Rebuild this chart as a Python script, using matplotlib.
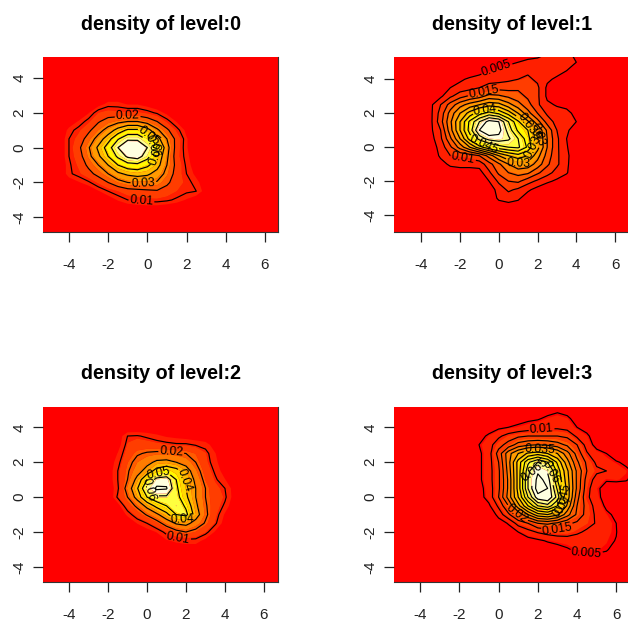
import numpy as np
import matplotlib
matplotlib.use("Agg")
import matplotlib.pyplot as plt
from matplotlib.colors import LinearSegmentedColormap

plt.rcParams['font.family'] = ['Liberation Sans', 'DejaVu Sans']
plt.rcParams['axes.unicode_minus'] = False

titles = ["density of level:0", "density of level:1", "density of level:2", "density of level:3"]
tick_values = [-4, -2, 0, 2, 4, 6]
ytick_values = [-4, -2, 0, 2, 4]

# densities in thousandths, rows from top (largest y) to bottom
level0_x = np.arange(-4.5, 3.51, 0.5)
level0_y = np.arange(3.0, -3.51, -0.5)
level0_z = [
 [0,0,0,0,1,2,2,2,2,1,0,0,0,0,0,0,0],
 [0,0,0,1,4,8,8,6,6,4,2,1,0,0,0,0,0],
 [0,0,1,6,13,15,14,14,14,12,9,5,3,0,0,0,0],
 [0,3,7,12,19,24,27,30,30,26,20,12,6,3,0,0,0],
 [1,8,12,18,26,34,44,52,52,44,32,22,12,5,1,0,0],
 [2,10,15,24,34,46,59,68,68,58,44,30,17,7,2,0,0],
 [2,10,18,29,42,55,70,81,80,70,55,34,16,7,2,0,0],
 [2,10,16,27,38,50,62,72,75,64,48,32,15,8,2,0,0],
 [1,9,14,22,30,40,50,56,57,52,44,30,17,9,3,0,0],
 [1,9,12,17,23,30,38,42,44,42,36,27,16,10,5,2,0],
 [0,3,6,9,14,20,26,30,31,31,29,22,15,12,8,3,0],
 [0,0,1,2,6,10,13,16,17,18,19,16,13,11,10,4,0],
 [0,0,0,0,1,3,7,10,11,12,12,11,9,6,3,1,0],
 [0,0,0,0,0,0,1,2,3,3,3,2,1,0,0,0,0],
]
level0_levels = [10,20,30,40,50,60,70]
level0_labels = [(-1.0,1.75),(-0.2,-2.06),(-0.3,-3.05),(0.1,0.7),(0.35,0.2),(0.45,-0.3)]

level1_x = np.arange(-4.0, 4.51, 0.5)
level1_y = np.arange(5.5, -4.01, -0.5)
level1_z = [
 [0,0,0,0,0,0,0,0,1,1,2,3,4,5,6,6,4,1],
 [0,0,0,0,0,0,1,2,3,4,5,6,6,7,7,7,5,1],
 [0,0,0,0,0,1,3,5,6,7,8,9,9,8,7,5,2,0],
 [0,0,0,2,4,6,7,8,8,9,10,11,9,6,4,2,1,0],
 [0,0,1,5,7,8,10,12,13,13,14,13,11,4,3,1,0,0],
 [0,1,4,9,13,16,18,22,21,19,17,14,11,4,3,1,0,0],
 [0,4,10,17,23,27,30,33,32,27,22,17,11,6,4.5,4,2,0],
 [0,4,12,22,30,37,43,47,44,38,30,22,15,9,7,6,4,1],
 [0,4,13,24,35,46,55,62,60,50,41,31,22,13,8,6.5,5,1],
 [0,4,10,23,35,47,60,65,62,53,44,40,30,19,10,6,2,0],
 [0,3,9,19,30,42,52,57,58,56,50,42,31,20,11,5,1,0],
 [0,2,7,14,22,30,38,44,48,50,51,44,32,20,11,5.5,1,0],
 [0,1,6,10,11,12,15,22,30,35,38,35,27,18,11,6,2,0],
 [0,0,3,6,7,7,7,13,19,25,29,28,23,16,11,6,1,0],
 [0,0,0,2,2,2,3,9,16,20,22,21,16,12,8,5.5,1,0],
 [0,0,0,0,0,0,0,5,11,15,16,12,9,6,4,2,0,0],
 [0,0,0,0,0,0,0,2,7,11,9,6,3,1,0,0,0,0],
 [0,0,0,0,0,0,0,1,6,7,6,2,0,0,0,0,0,0],
 [0,0,0,0,0,0,0,0,2,3,2,0,0,0,0,0,0,0],
 [0,0,0,0,0,0,0,0,0,0,0,0,0,0,0,0,0,0],
]
level1_levels = [5,10,15,20,25,30,35,40,45,50,55,60]
level1_labels = [(-0.1,4.6),(-0.8,3.33),(-0.7,2.2),(-0.8,0.15),(-1.85,-0.75),(1.0,-1.1),(1.6,1.3),(1.8,0.7),(2.0,0.2)]

level2_x = np.arange(-2.5, 5.01, 0.5)
level2_y = np.arange(4.0, -3.01, -0.5)
level2_z = [
 [0,0,0,0,0,0,0,0,0,0,0,0,0,0,0,0],
 [0,0,2,10,10.5,9,7,5,4,3,2,1,0,0,0,0],
 [0,0,3,12,14,14,13,12,11,11,9.5,8,3,1,0,0],
 [0,1,6,14,19,21,22,22,21,20,17,12,6,1,0,0],
 [0,2,8,17,23,27,32,33,30,26,20,13,7,2,0,0],
 [0,2,10,19,26,34,44,48,44,35,24,15,9,3,1,0],
 [0,2,10,20,33,50,64,66,50,38,28,17,11,6,2,0],
 [0,1,9,24,39,60,72,71,52,40,30,20,13,10,3,0],
 [0,0,11,20,34,50,58,58,54,42,30,20,14,11,3,0],
 [0,0,3,14,22,33,43,50,58,48,32,21,14,9,1,0],
 [0,0,0,7,14,21,28,37,50,53,35,22,13,5,0,0],
 [0,0,0,1,6,10,16,24,31,33,26,19,11,3,0,0],
 [0,0,0,0,1,3,6,12,17,20,17,12,5,1,0,0],
 [0,0,0,0,0,0,2,5,7,8,8,4,1,0,0,0],
 [0,0,0,0,0,0,0,1,1,2,2,1,0,0,0,0],
]
level2_levels = [10,20,30,40,50,60,70]
level2_labels = [(1.25,2.65),(2.0,1.0),(1.8,-1.4),(1.6,-2.35),(0.1,0.5),(0.6,1.3)]

level3_x = np.arange(-1.5, 7.01, 0.5)
level3_y = np.arange(5.5, -4.01, -0.5)
level3_z = [
 [0,0,0,0,0,0,0,0,0,0,0,0,0,0,0,0,0,0],
 [0,0,0,0,0,0,0,1,3,4,3,1,0,0,0,0,0,0],
 [0,0,0,1,2,3,4,4.5,6,7,6,3,1,0,0,0,0,0],
 [0,1,2,4,5,6,7,8,9,9,8,5,3,1,0,0,0,0],
 [0,3,6,9,12,14,15,15,15,15,14,9,6,2,0,0,0,0],
 [0,5,8,13,17,22,24,25,24,22,19,15,8,3,1,0,0,0],
 [0,4,8,17,28,35,41,43,40,35,27,18,10.5,7,5,2,0,0],
 [0,4,8,15,28,42,54,60,55,44,32,21,14,9,7,5.5,4,2],
 [0,4,8,14,27,42,58,69,64,48,36,24,15,11,10,8,6,4],
 [0,4,8,14,26,42,60,72,68,50,37,24,13,8,5.5,6,5.5,3],
 [0,3,7.5,14,26,42,60,73,70,54,38,24,12,6,3,2,2,1],
 [0,3,7,15,27,40,55,68,70,58,38,22,11,7,2,1,0,0],
 [0,1,4,11,20,33,45,55,58,50,34,20,13,8,4,2,0,0],
 [0,0,0,7,14,21,30,38,40,36,27,19,13,9,6,4,1,0],
 [0,0,0,2,5.5,12,15,20,21,19,16,14,12,9.5,7,5,1,0],
 [0,0,0,0,2,5,8,10.5,12,13,13,11,9,7.5,6.5,5.2,1,0],
 [0,0,0,0,0,1.5,3,4,5.5,6.5,7,7,6.5,6.5,6,4.8,1,0],
 [0,0,0,0,0,0,0,1,2,3,4.5,6,6,6,5.5,3,0.5,0],
 [0,0,0,0,0,0,0,0,0,0.5,1,2,3.5,3.7,3,1,0,0],
 [0,0,0,0,0,0,0,0,0,0,0,0,0,0,0,0,0,0],
]
level3_levels = [5,10,15,20,25,30,35,40,45,50,55,60,65,70]
level3_labels = [(2.2,3.8),(2.1,2.75),(1.9,1.5),(2.6,1.4),(3.3,-0.6),(3.4,-0.1),(0.9,-1.0),(3.0,-1.95),(4.5,-3.05)]

panels = [
    (level0_x, level0_y, level0_z, level0_levels, level0_labels, (43.3, 57.3, 278, 232), (-5.31, 6.67), (-4.84, 5.18)),
    (level1_x, level1_y, level1_z, level1_levels, level1_labels, (394.3, 57.3, 629, 232), (-5.39, 6.72), (-4.99, 5.29)),
    (level2_x, level2_y, level2_z, level2_levels, level2_labels, (43.3, 406.7, 278, 582.3), (-5.32, 6.72), (-4.88, 5.18)),
    (level3_x, level3_y, level3_z, level3_levels, level3_labels, (394.3, 406.7, 629, 582.3), (-5.32, 6.65), (-4.88, 5.18)),
]

W, H = 628, 621
fig = plt.figure(figsize=(W / 100, H / 100), dpi=100, facecolor='white')
heat = LinearSegmentedColormap.from_list('heat', [(0, '#ff0000'), (0.75, '#ffff00'), (1, '#ffffe0')])

for title, (xs, ys, zs, lv, labs, box, xl, yl) in zip(titles, panels):
    l, t, r, b = box
    ax = fig.add_axes([l / W, 1 - b / H, (r - l) / W, (b - t) / H])
    ax.set_facecolor('#ff0000')
    z = np.array(zs, dtype=float) / 1000
    X, Y = np.meshgrid(xs, ys)
    levels = np.array(lv) / 1000
    zmax = z.max()
    fill_levels = np.append(np.linspace(0, 0.88 * zmax, 12), zmax * 1.01)
    colors = [heat(i / 11) for i in range(12)]
    ax.contourf(X, Y, z, levels=fill_levels, colors=colors, antialiased=True)
    cs = ax.contour(X, Y, z, levels=levels, colors='black', linewidths=0.85)
    ax.set_xlim(*xl)
    ax.set_ylim(*yl)
    ax.clabel(cs, fmt='%g', fontsize=8.8, inline=True, inline_spacing=1, manual=labs)
    ax.set_xticks(tick_values)
    ax.set_xticklabels([str(v) for v in tick_values])
    ax.set_yticks(ytick_values)
    ax.set_yticklabels([str(v) for v in ytick_values], rotation=90, va='center')
    ax.tick_params(length=7.5, width=0.9, labelsize=11, color='#222222', labelcolor='#222222')
    ax.tick_params(axis='x', pad=11)
    ax.tick_params(axis='y', pad=4.5)
    for side in ('top', 'left'):
        ax.spines[side].set_visible(False)
    for side in ('bottom', 'right'):
        ax.spines[side].set_linewidth(0.8)
        ax.spines[side].set_color('#333333')
    ax.set_title(title, fontsize=14.2, fontweight='bold', pad=20)

fig.savefig('out.png', dpi=100)
